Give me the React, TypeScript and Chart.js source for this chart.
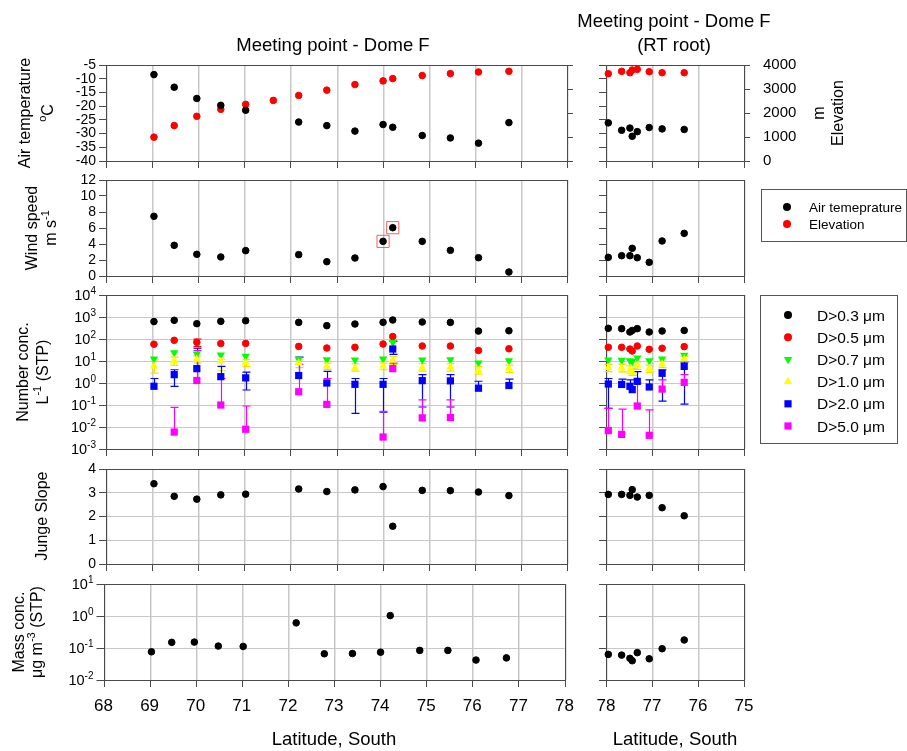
import React, { useEffect, useRef } from 'react';
import { Chart, registerables } from 'chart.js';
Chart.register(...registerables);

const FONT = "'Liberation Sans', Arial, Helvetica, sans-serif";
Chart.defaults.font.family = FONT;
const GRID = '#c8c8c8';
const AXIS = '#4a4a4a';

// ---------------- data ----------------
const latTicksL = [68, 69, 70, 71, 72, 73, 74, 75, 76, 77, 78];
const latTicksR = [75, 76, 77, 78];
const tempTicks = [-40, -35, -30, -25, -20, -15, -10, -5];
const elevTicks = [0, 1000, 2000, 3000, 4000];
const windTicks = [0, 2, 4, 6, 8, 10, 12];
const numTicks = [1e-3, 1e-2, 1e-1, 1, 10, 100, 1000, 10000];
const jungeTicks = [0, 1, 2, 3, 4];
const massTicks = [1e-2, 1e-1, 1, 10];

const latL = [69.04, 69.48, 69.97, 70.49, 71.03, 72.18, 72.79, 73.40, 74.01, 74.22, 74.86, 75.47, 76.08, 76.74];
const latElevL = [69.04, 69.48, 69.97, 70.49, 71.03, 71.63, 72.18, 72.79, 73.40, 74.01, 74.22, 74.86, 75.47, 76.08, 76.74];
const latR = [77.95, 77.66, 77.48, 77.43, 77.32, 77.06, 76.78, 76.30];

const tempL = [-8.5, -13.1, -17.2, -19.7, -21.5, -25.8, -27.1, -29.1, -26.7, -27.7, -30.7, -31.6, -33.5, -26.0];
const elevL = [993, 1476, 1862, 2152, 2359, 2524, 2731, 2952, 3186, 3338, 3434, 3559, 3641, 3710, 3738];
const tempR = [-26.1, -28.8, -28.0, -31.0, -29.3, -27.8, -28.3, -28.5];
const elevR = [3638, 3735, 3679, 3791, 3819, 3721, 3679, 3679];

const windL = [7.46, 3.83, 2.71, 2.38, 3.17, 2.67, 1.79, 2.25, 4.33, 6.04, 4.33, 3.21, 2.29, 0.5];
const windHighlight = [8, 9];
const windR = [2.33, 2.54, 2.54, 3.46, 2.29, 1.71, 4.38, 5.33];

const n03L = [617, 706, 497, 633, 677, 569, 404, 479, 573, 730, 590, 569, 229, 237];
const n05L = [58, 87, 71, 62, 63, 46, 39, 42, 59, 130, 48, 48, 30, 36];
const n07L = [12.3, 24, 21, 18.7, 16.6, 12.2, 11.5, 11.2, 12.3, 70, 11.2, 11.4, 8.3, 10.3];
const n10L = [5.8, 10.5, 12, 9.4, 8.6, 8, 5.8, 4.8, 5.8, 11, 4.8, 5.3, 3.7, 4.6];
const n20L = [0.71, 2.4, 4.5, 1.94, 1.71, 2.19, 1.0, 0.87, 0.87, 35, 1.28, 1.25, 0.58, 0.77];
const n50L = [null, 0.0059, 1.3, 0.10, 0.0079, 0.40, 0.107, null, 0.0035, 4.5, 0.026, 0.027, null, null];

const e05LoL = [null, null, 45, null, null, null, null, null, null, null, null, null, null, null];
const e05HiL = [null, null, 100, null, null, null, null, null, null, null, null, null, null, null];
const e10LoL = [2.8, 6.5, 8, 3.6, 5.5, 5, 4.2, 3.5, 4, 7, 3.5, 3.5, 2.5, 3.0];
const e10HiL = [10, 15, 17, 12, 12, 12, 8, 7.5, 8, 16, 7.5, 7.5, 5.5, 6.5];
const e20LoL = [null, 0.7, null, null, 0.48, null, null, 0.042, 0.047, 20, 0.081, 0.081, null, null];
const e20HiL = [1.6, 4.0, 38, 5.7, 3.1, 15, 3.4, 1.6, 1.6, 80, 2.4, 2.4, 1.2, 1.5];
const e50HiL = [null, 0.078, 30, 1.6, 0.09, 7, 1.6, null, 0.052, 8, 0.17, 0.17, null, null];

const n03R = [305, 295, 208, 245, 295, 208, 231, 245];
const n05R = [42, 42, 35, 28.5, 48, 34, 38, 45];
const n07R = [11.1, 11, 10.4, 9.7, 13.7, 10.4, 12.3, 18.6];
const n10R = [5, 4.8, 4, 3.05, 6.4, 4.5, 7.3, 12.3];
const n20R = [0.9, 0.86, 0.71, 0.5, 1.19, 0.66, 2.76, 5.7];
const n50R = [0.0068, 0.0046, null, null, 0.09, 0.0042, 0.53, 1.07];

const e10LoR = [3.3, 3.2, 2.8, 2.2, 4.2, 3.0, 5, 8];
const e10HiR = [7, 7, 6, 4.5, 9, 6.5, 10, 16];
const e20LoR = [0.07, null, null, null, null, null, 0.15, 0.11];
const e20HiR = [1.6, 1.5, 1.4, null, 3.3, 1.4, 4, 9];
const e50HiR = [0.07, 0.065, null, null, 1.0, 0.06, 1.4, 2.4];

const jungeL = [3.38, 2.85, 2.73, 2.91, 2.94, 3.16, 3.05, 3.12, 3.26, 1.59, 3.10, 3.09, 3.03, 2.88];
const jungeR = [2.93, 2.93, 2.89, 3.13, 2.82, 2.89, 2.37, 2.03];
const massL = [0.076, 0.15, 0.153, 0.115, 0.112, 0.61, 0.066, 0.067, 0.074, 1.03, 0.084, 0.084, 0.042, 0.049];
const massR = [0.063, 0.060, 0.0475, 0.040, 0.0715, 0.046, 0.095, 0.178];

const sizeLabels = ['D>0.3 μm', 'D>0.5 μm', 'D>0.7 μm', 'D>1.0 μm', 'D>2.0 μm', 'D>5.0 μm'];
const sizeColors = ['#000000', '#ff0000', '#00ff00', '#ffff00', '#0000ff', '#ff00ff'];
const sizeShapes = ['circle', 'circle', 'tridown', 'triangle', 'rect', 'rect'];
const metLabels = ['Air temeprature', 'Elevation'];
const metColors = ['#000000', '#ff0000'];

// ---------------- helpers ----------------
type Seg = { t: string; sup?: boolean };

function drawRich(ctx: CanvasRenderingContext2D, segs: Seg[], x: number, y: number, size: number,
  align: 'left' | 'center' | 'right' = 'center', rotate = false) {
  const supSize = Math.round(size * 0.68);
  ctx.save();
  ctx.translate(x, y);
  if (rotate) ctx.rotate(-Math.PI / 2);
  ctx.fillStyle = '#000';
  ctx.textBaseline = 'alphabetic';
  ctx.textAlign = 'left';
  const widths = segs.map(s => { ctx.font = `${s.sup ? supSize : size}px ${FONT}`; return ctx.measureText(s.t).width; });
  const total = widths.reduce((a, b) => a + b, 0);
  let cx = align === 'center' ? -total / 2 : align === 'right' ? -total : 0;
  const base = size * 0.36;
  segs.forEach((s, i) => {
    ctx.font = `${s.sup ? supSize : size}px ${FONT}`;
    ctx.fillText(s.t, cx, s.sup ? base - size * 0.45 : base);
    cx += widths[i];
  });
  ctx.restore();
}

function marker(ctx: CanvasRenderingContext2D, shape: string, x: number, y: number, color: string) {
  ctx.save();
  ctx.fillStyle = color;
  ctx.beginPath();
  if (shape === 'circle') ctx.arc(x, y, 4, 0, Math.PI * 2);
  else if (shape === 'rect') ctx.rect(x - 3.6, y - 3.6, 7.2, 7.2);
  else {
    const r = 4.8; const d = shape === 'triangle' ? 1 : -1;
    ctx.moveTo(x, y - d * r);
    ctx.lineTo(x + r * 0.866, y + d * r / 2);
    ctx.lineTo(x - r * 0.866, y + d * r / 2);
    ctx.closePath();
  }
  ctx.fill();
  ctx.restore();
}

const pts = (xs: number[], ys: (number | null)[]) => xs.map((x, i) => ({ x, y: ys[i] }));

function ds(data: any[], color: string, shape: string, extra: any = {}) {
  let pointStyle: any = 'circle'; let r = 3.3; let rot = 0;
  if (shape === 'rect') { pointStyle = 'rect'; r = 5.1; }
  if (shape === 'triangle') { pointStyle = 'triangle'; r = 4.8; }
  if (shape === 'tridown') { pointStyle = 'triangle'; r = 4.8; rot = 180; }
  return {
    data, showLine: false, clip: false,
    pointStyle, pointRadius: r, pointRotation: rot, pointBorderWidth: shape === 'circle' ? 1 : 0,
    backgroundColor: color, borderColor: color, pointBackgroundColor: color, pointBorderColor: color,
    pointHoverRadius: r,
    ...extra,
  };
}

function numSets(lat: number[], vals: (number | null)[][], lo: any[], hi: any[]) {
  return vals.map((v, k) => ds(pts(lat, v), sizeColors[k], sizeShapes[k], {
    order: 6 - k, errLo: lo[k], errHi: hi[k], errColor: k === 3 ? '#e6e600' : sizeColors[k],
  }));
}

function drawErrorBars(chart: any) {
  const ctx: CanvasRenderingContext2D = chart.ctx;
  chart.data.datasets.forEach((d: any) => {
    if (!d.errLo && !d.errHi) return;
    const xs = chart.scales[d.xAxisID || 'x'];
    const ys = chart.scales[d.yAxisID || 'y'];
    ctx.save();
    ctx.strokeStyle = d.errColor; ctx.lineWidth = 1.2;
    d.data.forEach((p: any, i: number) => {
      if (p.y == null) return;
      const px = Math.round(xs.getPixelForValue(p.x)) + 0.5;
      const py = ys.getPixelForValue(p.y);
      [d.errHi && d.errHi[i], d.errLo && d.errLo[i]].forEach((v: any) => {
        if (v == null) return;
        const ey = ys.getPixelForValue(v);
        ctx.beginPath();
        ctx.moveTo(px, py); ctx.lineTo(px, ey);
        ctx.moveTo(px - 4, ey); ctx.lineTo(px + 4, ey);
        ctx.stroke();
      });
    });
    ctx.restore();
  });
}

// vertical grid lines (drawn behind everything) and outward tick marks along the latitude axis
function drawXGrid(chart: any, ticks: number[]) {
  const ctx: CanvasRenderingContext2D = chart.ctx;
  const xs = chart.scales.x; const ca = chart.chartArea;
  const top = Math.round(ca.top); const bottom = Math.round(ca.bottom);
  ctx.save();
  ticks.forEach((v: number) => {
    const px = Math.round(xs.getPixelForValue(v));
    ctx.globalCompositeOperation = 'source-over';
    ctx.fillStyle = AXIS;
    ctx.fillRect(px, bottom, 1, 7);
    ctx.globalCompositeOperation = 'destination-over';
    ctx.fillStyle = GRID;
    ctx.fillRect(px, top, 1.5, bottom - top);
  });
  ctx.restore();
}

// ---------------- layout ----------------
const ROWS = [
  { t: 65, b: 161, ct: 0, cb: 175 },
  { t: 180, b: 276, ct: 168, cb: 288 },
  { t: 295, b: 449, ct: 283, cb: 461 },
  { t: 469, b: 564, ct: 457, cb: 576 },
  { t: 584, b: 680, ct: 572, cb: 751 },
];

function place(col: 'L' | 'R', row: number, shift = 0) {
  const R = ROWS[row];
  if (col === 'L') return { left: 0, width: 590, top: R.ct, height: R.cb - R.ct, area: { l: 106 - shift, r: 567 - shift, t: R.t, b: R.b } };
  return { left: 575, width: 332, top: R.ct, height: R.cb - R.ct, area: { l: 606, r: 744, t: R.t, b: R.b } };
}

const xL = (labels: boolean) => ({ min: 68, max: 78, ticks: latTicksL, labels, reverse: false, title: labels ? 'Latitude, South' : null });
const xR = (labels: boolean) => ({ min: 75, max: 78, ticks: latTicksR, labels, reverse: true, title: labels ? 'Latitude, South' : null });

const T = (t: string): Seg[] => [{ t }];

const specs: any[] = [
  {
    key: 'p1', ...place('L', 0), x: xL(false),
    y: { type: 'linear', min: -40, max: -5, ticks: tempTicks, labels: true, hgrid: false },
    y2: { min: 0, max: 4000, ticks: elevTicks, labels: false },
    datasets: [ds(pts(latL, tempL), '#000', 'circle'), ds(pts(latElevL, elevL), '#ff0000', 'circle', { yAxisID: 'y2' })],
    draw: (ctx: CanvasRenderingContext2D) => {
      drawRich(ctx, T('Meeting point - Dome F'), 333, 44, 18.5);
      drawRich(ctx, T('Air temperature'), 24, 113, 16, 'center', true);
      drawRich(ctx, [{ t: 'o', sup: true }, { t: 'C' }], 47, 113, 16, 'center', true);
    },
  },
  {
    key: 'r1', ...place('R', 0), x: xR(false),
    y: { type: 'linear', min: -40, max: -5, ticks: tempTicks, labels: false, hgrid: false },
    y2: { min: 0, max: 4000, ticks: elevTicks, labels: true },
    datasets: [ds(pts(latR, tempR), '#000', 'circle'), ds(pts(latR, elevR), '#ff0000', 'circle', { yAxisID: 'y2' })],
    draw: (ctx: CanvasRenderingContext2D) => {
      drawRich(ctx, T('Meeting point - Dome F'), 674, 20, 18.5);
      drawRich(ctx, T('(RT root)'), 674, 44, 18.5);
      drawRich(ctx, T('m'), 818, 113, 16, 'center', true);
      drawRich(ctx, T('Elevation'), 837, 113, 16, 'center', true);
    },
  },
  {
    key: 'p2', ...place('L', 1), x: xL(false),
    y: { type: 'linear', min: 0, max: 12, ticks: windTicks, labels: true, hgrid: false },
    datasets: [
      ds(pts(latL, windL), '#000', 'circle'),
      ds(windHighlight.map(i => ({ x: latL[i], y: windL[i] })), 'rgba(0,0,0,0)', 'rect', {
        pointRadius: 8.6, pointBorderWidth: 1, pointBorderColor: '#f06060', borderColor: '#f06060', order: -1,
      }),
    ],
    draw: (ctx: CanvasRenderingContext2D) => {
      drawRich(ctx, T('Wind speed'), 31, 228, 16, 'center', true);
      drawRich(ctx, [{ t: 'm s' }, { t: '-1', sup: true }], 50, 228, 16, 'center', true);
    },
  },
  {
    key: 'r2', ...place('R', 1), x: xR(false),
    y: { type: 'linear', min: 0, max: 12, ticks: windTicks, labels: false, hgrid: false },
    datasets: [ds(pts(latR, windR), '#000', 'circle')],
    draw: (ctx: CanvasRenderingContext2D) => {
      ctx.save(); ctx.strokeStyle = '#555'; ctx.lineWidth = 1;
      ctx.strokeRect(761.5, 189.5, 145, 52); ctx.restore();
      metLabels.forEach((lab, i) => {
        marker(ctx, 'circle', 787, 207 + i * 17, metColors[i]);
        drawRich(ctx, T(lab), 809, 207 + i * 17, 13.5, 'left');
      });
    },
  },
  {
    key: 'p3', ...place('L', 2), x: xL(false),
    y: { type: 'logarithmic', min: 1e-3, max: 1e4, ticks: numTicks, labels: true, hgrid: true },
    datasets: numSets(latL, [n03L, n05L, n07L, n10L, n20L, n50L],
      [null, e05LoL, null, e10LoL, e20LoL, null], [null, e05HiL, null, e10HiL, e20HiL, e50HiL]),
    draw: (ctx: CanvasRenderingContext2D) => {
      drawRich(ctx, T('Number conc.'), 22, 372, 16, 'center', true);
      drawRich(ctx, [{ t: 'L' }, { t: '-1', sup: true }, { t: ' (STP)' }], 42, 372, 16, 'center', true);
    },
  },
  {
    key: 'r3', ...place('R', 2), x: xR(false),
    y: { type: 'logarithmic', min: 1e-3, max: 1e4, ticks: numTicks, labels: false, hgrid: true },
    datasets: numSets(latR, [n03R, n05R, n07R, n10R, n20R, n50R],
      [null, null, null, e10LoR, e20LoR, null], [null, null, null, e10HiR, e20HiR, e50HiR]),
    draw: (ctx: CanvasRenderingContext2D) => {
      ctx.save(); ctx.strokeStyle = '#555'; ctx.lineWidth = 1;
      ctx.strokeRect(760.5, 295.5, 137, 148); ctx.restore();
      sizeLabels.forEach((lab, i) => {
        const y = 315 + i * 22.2;
        marker(ctx, sizeShapes[i], 788, y, sizeColors[i]);
        drawRich(ctx, T(lab), 817, y, 15.5, 'left');
      });
    },
  },
  {
    key: 'p4', ...place('L', 3), x: xL(false),
    y: { type: 'linear', min: 0, max: 4, ticks: jungeTicks, labels: true, hgrid: true },
    datasets: [ds(pts(latL, jungeL), '#000', 'circle')],
    draw: (ctx: CanvasRenderingContext2D) => {
      drawRich(ctx, T('Junge Slope'), 41, 516, 16, 'center', true);
    },
  },
  {
    key: 'r4', ...place('R', 3), x: xR(false),
    y: { type: 'linear', min: 0, max: 4, ticks: jungeTicks, labels: false, hgrid: true },
    datasets: [ds(pts(latR, jungeR), '#000', 'circle')],
  },
  {
    key: 'p5', ...place('L', 4, 2.5), x: xL(true),
    y: { type: 'logarithmic', min: 1e-2, max: 10, ticks: massTicks, labels: true, hgrid: true },
    datasets: [ds(pts(latL, massL), '#000', 'circle')],
    draw: (ctx: CanvasRenderingContext2D) => {
      drawRich(ctx, T('Mass conc.'), 18, 632, 16, 'center', true);
      drawRich(ctx, [{ t: 'μg m' }, { t: '-3', sup: true }, { t: ' (STP)' }], 36, 632, 16, 'center', true);
    },
  },
  {
    key: 'r5', ...place('R', 4), x: xR(true),
    y: { type: 'logarithmic', min: 1e-2, max: 10, ticks: massTicks, labels: false, hgrid: true },
    datasets: [ds(pts(latR, massR), '#000', 'circle')],
  },
];

const zeroPad = (s: any) => { s.paddingTop = 0; s.paddingBottom = 0; s.paddingLeft = 0; s.paddingRight = 0; };

function buildConfig(spec: any) {
  const a = spec.area;
  const padRight = spec.left + spec.width - a.r;
  const padBottom = spec.top + spec.height - a.b;
  const tickFont = { size: 14, family: FONT };
  const scales: any = {
    x: {
      type: 'linear', position: 'bottom', min: spec.x.min, max: spec.x.max, reverse: spec.x.reverse,
      afterBuildTicks: (s: any) => { s.ticks = spec.x.ticks.map((v: number) => ({ value: v })); },
      afterFit: (s: any) => { s.height = padBottom; zeroPad(s); },
      grid: { display: false, drawTicks: true, tickLength: 7 },
      border: { display: false },
      ticks: { display: spec.x.labels, font: { size: 17, family: FONT }, color: '#000', padding: 9, maxRotation: 0, autoSkip: false, callback: (v: any) => String(v) },
      title: spec.x.title
        ? { display: true, text: spec.x.title, font: { size: 18.5, family: FONT }, color: '#000', padding: { top: 0, bottom: 0 } }
        : { display: false },
    },
    y: {
      type: spec.y.type, position: 'left', min: spec.y.min, max: spec.y.max,
      afterBuildTicks: (s: any) => { s.ticks = spec.y.ticks.map((v: number) => ({ value: v })); },
      afterFit: (s: any) => { s.width = a.l - spec.left; zeroPad(s); },
      grid: { display: true, drawOnChartArea: spec.y.hgrid, color: GRID, lineWidth: 1, drawTicks: true, tickLength: 7, tickColor: AXIS, tickWidth: 1 },
      border: { display: false },
      ticks: { display: spec.y.labels && spec.y.type === 'linear', font: tickFont, color: '#000', padding: 3, autoSkip: false, callback: (v: any) => String(v) },
    },
  };
  if (spec.y2) {
    scales.y2 = {
      type: 'linear', position: 'right', min: spec.y2.min, max: spec.y2.max,
      afterBuildTicks: (s: any) => { s.ticks = spec.y2.ticks.map((v: number) => ({ value: v })); },
      afterFit: (s: any) => { s.width = padRight; zeroPad(s); },
      grid: { display: true, drawOnChartArea: false, drawTicks: true, tickLength: 6, tickColor: AXIS, tickWidth: 1 },
      border: { display: false },
      ticks: { display: spec.y2.labels, font: { size: 15, family: FONT }, color: '#000', padding: 13, autoSkip: false, callback: (v: any) => String(v) },
    };
  }
  const plugin = {
    id: 'panel_' + spec.key,
    beforeDatasetsDraw(chart: any) {
      const ctx = chart.ctx; const ca = chart.chartArea;
      ctx.save();
      ctx.strokeStyle = AXIS; ctx.lineWidth = 1;
      ctx.strokeRect(Math.round(ca.left) + 0.5, Math.round(ca.top) + 0.5, Math.round(ca.right - ca.left), Math.round(ca.bottom - ca.top));
      ctx.restore();
      drawErrorBars(chart);
    },
    afterDraw(chart: any) {
      const ctx = chart.ctx;
      drawXGrid(chart, spec.x.ticks);
      ctx.save();
      ctx.translate(-spec.left, -spec.top);
      if (spec.y.type === 'logarithmic' && spec.y.labels) {
        const ys = chart.scales.y;
        spec.y.ticks.forEach((v: number) => {
          const py = ys.getPixelForValue(v) + spec.top;
          const e = Math.round(Math.log10(v));
          drawRich(ctx, [{ t: '10' }, { t: String(e), sup: true }], a.l - 10, py, 14.5, 'right');
        });
      }
      if (spec.draw) spec.draw(ctx);
      ctx.restore();
    },
  };
  return {
    type: 'scatter',
    data: { datasets: spec.datasets },
    options: {
      animation: false, responsive: false, maintainAspectRatio: false,
      events: [],
      layout: { padding: { top: a.t - spec.top, left: 0, bottom: 0, right: spec.y2 ? 0 : padRight } },
      plugins: { legend: { display: false }, tooltip: { enabled: false }, title: { display: false } },
      scales,
    },
    plugins: [plugin],
  };
}

export default function App() {
  const refs = useRef<(HTMLCanvasElement | null)[]>([]);
  useEffect(() => {
    const charts = specs.map((s, i) => new Chart(refs.current[i] as HTMLCanvasElement, buildConfig(s) as any));
    return () => charts.forEach(c => c.destroy());
  }, []);
  return (
    <div style={{ position: 'absolute', left: 0, top: 0, width: 907, height: 751, background: '#fff', overflow: 'hidden' }}>
      {specs.map((s, i) => (
        <canvas
          key={s.key}
          ref={el => { refs.current[i] = el; }}
          width={s.width}
          height={s.height}
          style={{ position: 'absolute', left: s.left, top: s.top, width: s.width, height: s.height }}
        />
      ))}
    </div>
  );
}
